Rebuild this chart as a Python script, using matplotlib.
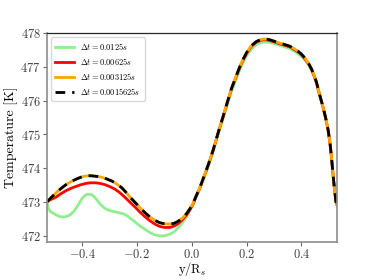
import numpy as np
import matplotlib
matplotlib.use('Agg')
import matplotlib.pyplot as plt

plt.rcParams['font.family'] = 'serif'
plt.rcParams['font.serif'] = ['cmr10', 'DejaVu Serif']
plt.rcParams['mathtext.fontset'] = 'cm'
plt.rcParams['axes.formatter.use_mathtext'] = True

# right part (y/Rs >= 0.029), where the runs nearly coincide
y_right = [0.029, 0.041, 0.06, 0.078, 0.09, 0.102, 0.115, 0.127, 0.145, 0.163,
           0.181, 0.2, 0.218, 0.236, 0.25, 0.26, 0.272, 0.285, 0.3, 0.315, 0.335,
           0.358, 0.375, 0.388, 0.4, 0.412, 0.425, 0.437, 0.446, 0.455, 0.467,
           0.479, 0.489, 0.498, 0.505, 0.51, 0.518, 0.526, 0.53]

# black dashed / orange (finest time steps)
y_fine = [-0.528, -0.51, -0.492, -0.473, -0.455, -0.437, -0.419, -0.4, -0.388,
          -0.37, -0.346, -0.327, -0.309, -0.291, -0.273, -0.255, -0.237, -0.22,
          -0.2, -0.19, -0.17, -0.153, -0.135, -0.117, -0.1, -0.08, -0.065, -0.05,
          -0.035, -0.019, -0.007, 0.005, 0.017] + y_right
T_fine = [473.01, 473.16, 473.30, 473.43, 473.54, 473.62, 473.69, 473.75, 473.77,
          473.78, 473.76, 473.73, 473.68, 473.62, 473.53, 473.42, 473.26, 473.10,
          472.93, 472.84, 472.68, 472.56, 472.46, 472.39, 472.36, 472.35, 472.37, 472.43,
          472.52, 472.66, 472.80, 472.97, 473.2,
          473.42, 473.68, 474.1, 474.54, 474.88, 475.21, 475.55, 475.88, 476.36, 476.75,
          477.12, 477.42, 477.63, 477.75, 477.80, 477.82, 477.82, 477.80, 477.76, 477.72,
          477.67, 477.61, 477.53, 477.46, 477.38, 477.27, 477.12, 476.94, 476.76, 476.55,
          476.17, 475.82, 475.48, 475.12, 474.72, 474.32, 473.62, 473.02, 472.92]

# red, dt = 0.00625
y_red = [-0.528, -0.516, -0.497, -0.479, -0.461, -0.443, -0.424, -0.406, -0.388,
         -0.37, -0.351, -0.333, -0.315, -0.297, -0.28, -0.263, -0.245, -0.226,
         -0.208, -0.19, -0.17, -0.153, -0.135, -0.117, -0.1, -0.08, -0.065, -0.05,
         -0.035, -0.019, -0.007, 0.005, 0.017] + y_right
T_red = [473.01, 473.07, 473.14, 473.24, 473.33, 473.40, 473.46, 473.51, 473.55,
         473.57, 473.57, 473.55, 473.51, 473.45, 473.38, 473.28, 473.15, 473.0,
         472.86, 472.71, 472.56, 472.45, 472.35, 472.28, 472.25, 472.25, 472.29, 472.36,
         472.47, 472.62, 472.77, 472.95, 473.19,
         473.41, 473.67, 474.09, 474.53, 474.87, 475.2, 475.54, 475.87, 476.35, 476.73,
         477.1, 477.4, 477.61, 477.73, 477.78, 477.8, 477.8, 477.78, 477.74, 477.7,
         477.65, 477.59, 477.51, 477.44, 477.36, 477.25, 477.11, 476.93, 476.75, 476.54,
         476.16, 475.81, 475.47, 475.11, 474.71, 474.31, 473.61, 473.02, 472.92]

# green, dt = 0.0125
y_green = [-0.528, -0.524, -0.516, -0.497, -0.485, -0.473, -0.458, -0.443, -0.43,
           -0.419, -0.41, -0.4, -0.391, -0.382, -0.369, -0.36, -0.351, -0.342, -0.333,
           -0.321, -0.309, -0.291, -0.273, -0.248, -0.237, -0.226, -0.208, -0.19,
           -0.17, -0.153, -0.135, -0.117, -0.1, -0.08, -0.065, -0.05, -0.035, -0.019,
           -0.007, 0.005, 0.017] + y_right
T_green = [473.01, 472.82, 472.72, 472.63, 472.58, 472.56, 472.57, 472.63, 472.73,
           472.86, 472.98, 473.11, 473.19, 473.23, 473.23, 473.19, 473.11, 473.02, 472.93,
           472.84, 472.78, 472.73, 472.70, 472.65, 472.60, 472.53, 472.42, 472.30,
           472.19, 472.10, 472.03, 472.00, 472.00, 472.05, 472.12, 472.24, 472.38, 472.57,
           472.75, 472.93, 473.17,
           473.38, 473.63, 474.05, 474.49, 474.83, 475.15, 475.49, 475.81, 476.28, 476.66,
           477.03, 477.33, 477.54, 477.66, 477.71, 477.73, 477.73, 477.72, 477.69, 477.65,
           477.6, 477.54, 477.46, 477.39, 477.31, 477.21, 477.07, 476.9, 476.72, 476.52,
           476.14, 475.8, 475.46, 475.1, 474.7, 474.3, 473.6, 473.02, 472.92]

labels = [r'$\Delta t = 0.0125s$', r'$\Delta t = 0.00625s$',
          r'$\Delta t = 0.003125s$', r'$\Delta t = 0.0015625s$']

fig = plt.figure(figsize=(3.74, 2.8), dpi=100)
ax = fig.add_axes([0.126, 0.137, 0.775, 0.745])

ax.plot(y_green, T_green, color='lightgreen', lw=2, label=labels[0])
ax.plot(y_red, T_red, color='red', lw=2, label=labels[1])
ax.plot(y_fine, T_fine, color='orange', lw=2, label=labels[2])
ax.plot(y_fine, T_fine, color='black', lw=2, ls=(0, (3.5, 2.5)), label=labels[3])

ax.set_xlim(-0.528, 0.53)
ax.set_ylim(471.83, 478)
ax.set_xticks([-0.4, -0.2, 0.0, 0.2, 0.4])
ax.set_yticks([472, 473, 474, 475, 476, 477, 478])
ax.set_xlabel(r'$\mathrm{y/R}_s$', fontsize=9)
ax.xaxis.set_label_coords(0.5, -0.09)
ax.set_ylabel('Temperature [K]', fontsize=10, labelpad=2)
ax.tick_params(labelsize=9, length=3, pad=1.5, color='0.4', labelcolor='0.25')

for side in ['left', 'bottom', 'right']:
    ax.spines[side].set_color('0.55')
    ax.spines[side].set_linewidth(1.2)
ax.spines['top'].set_color('0.15')
ax.spines['top'].set_linewidth(0.9)

ax.legend(loc='upper left', fontsize=6, frameon=True, handlelength=2.2,
          borderpad=0.5, labelspacing=0.45, framealpha=1, edgecolor='0.85')

fig.savefig('out.png', dpi=100)
